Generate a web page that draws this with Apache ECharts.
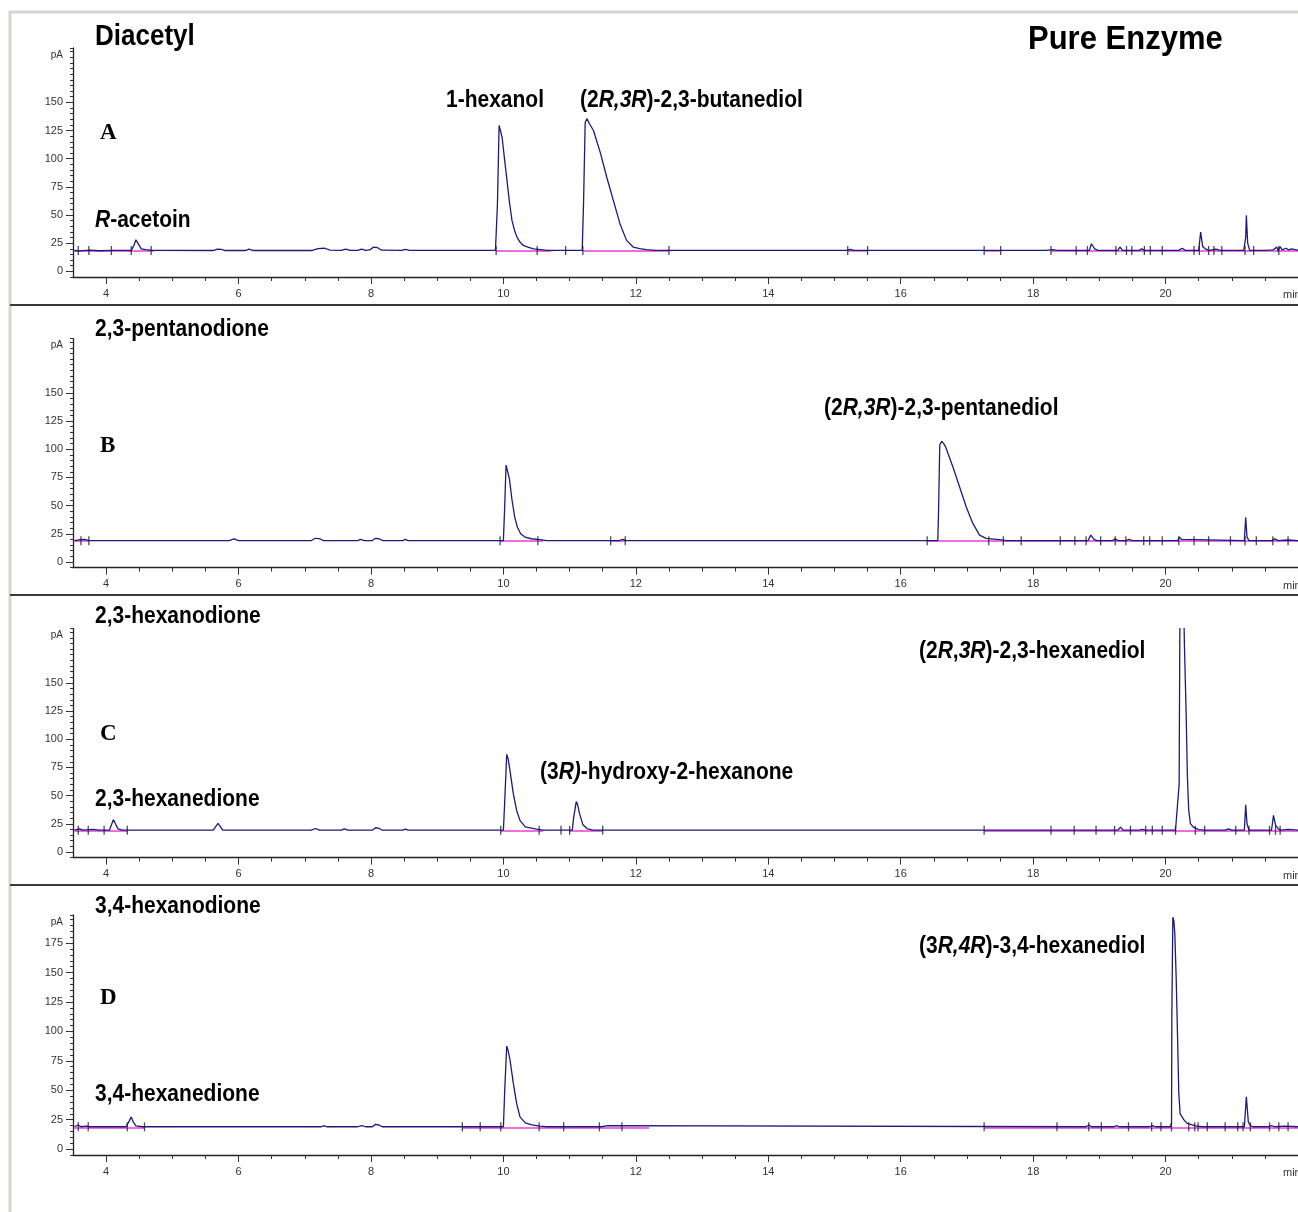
<!DOCTYPE html>
<html>
<head>
<meta charset="utf-8">
<script src="https://cdn.jsdelivr.net/npm/echarts@6/dist/echarts.min.js"></script>
<style>
  html, body { margin: 0; padding: 0; background: #ffffff; }
  #chart { width: 1298px; height: 1212px; }
</style>
</head>
<body>
<div id="chart"></div>
<script>
// ---- GC-FID chromatograms: [retention time (min), signal (pA)] ----
const traceA = [
  [3.52,18.5],[3.6,18.2],[3.75,18.9],[3.9,18.3],[4.1,18.6],[4.3,18.6],[4.38,18.5],[4.42,23],[4.45,28],[4.49,24],
  [4.53,20],[4.6,19.3],[4.7,18.6],[5.62,18.5],[5.68,19.8],[5.74,19.6],[5.8,18.5],[6.1,18.5],[6.16,19.8],[6.22,18.5],
  [7.1,18.5],[7.2,20.2],[7.3,20.5],[7.38,18.8],[7.55,18.6],[7.62,19.8],[7.68,18.6],[7.8,18.6],[7.86,19.8],[7.92,18.6],
  [7.98,19],[8.04,21.5],[8.1,21],[8.16,18.8],[8.46,18.6],[8.52,19.6],[8.58,18.6],[9.88,18.6],[9.91,60],[9.935,129.5],
  [9.95,128],[9.98,119],[10.02,98],[10.054,80.7],[10.09,62],[10.13,45],[10.17,36],[10.205,30.4],[10.25,26],[10.30,23],
  [10.38,21.2],[10.455,20],[10.56,19.3],[10.66,18.6],[11.19,18.6],[11.21,60],[11.235,132],[11.26,135.5],[11.3,131],
  [11.36,125],[11.46,106],[11.56,83.7],[11.66,63],[11.76,42.3],[11.86,27.5],[11.96,21.6],[12.06,20.1],[12.16,19.3],
  [12.3,18.6],[15.18,18.6],[15.24,19.4],[15.3,18.6],[18.2,18.6],[18.3,19.2],[18.36,18.6],[18.85,18.6],[18.88,24.5],
  [18.93,20],[18.98,18.6],[19.28,18.6],[19.31,21.6],[19.35,18.6],[19.6,18.6],[19.64,20],[19.68,18.6],[20.2,18.6],
  [20.25,20.5],[20.3,18.6],[20.5,18.6],[20.53,34.9],[20.56,22],[20.6,20],[20.66,18.6],[20.76,19.8],[20.82,18.6],
  [21.18,18.6],[21.21,30],[21.22,49.7],[21.24,25],[21.27,18.6],[21.5,18.6],[21.62,19],[21.68,21.5],[21.7,18],
  [21.73,22],[21.76,19],[21.82,20.5],[21.86,19],[21.9,20],[22,18.8]
];
const traceB = [
  [3.52,19],[3.62,19.8],[3.68,20],[3.74,19],[5.86,19],[5.93,20.5],[6.0,19],[7.1,19],[7.16,21],[7.22,20.8],[7.28,19],
  [7.8,19],[7.84,20],[7.9,19],[8.02,19],[8.07,21],[8.12,20.6],[8.18,19],[8.48,19],[8.52,20],[8.56,19],[10.0,19],
  [10.02,50],[10.04,86],[10.06,85],[10.09,74],[10.13,55],[10.17,40],[10.21,31],[10.26,25],[10.33,22],[10.42,20.6],
  [10.55,19.8],[10.65,19],[11.75,19],[11.8,20],[11.86,19],[16.56,19],[16.57,40],[16.59,104],[16.62,107],[16.65,105],
  [16.68,101.8],[16.79,84],[16.89,66.5],[16.99,48.8],[17.09,34.2],[17.19,23.8],[17.29,20.9],[17.49,19.8],[17.6,19],
  [18.83,19],[18.87,23.8],[18.92,20],[18.96,19],[19.2,19],[19.24,20.5],[19.28,19],[19.4,19],[19.45,20],[19.5,19],
  [19.6,19],[19.62,20],[19.66,19],[20.18,19],[20.21,22],[20.24,20],[20.27,19],[21.19,19],[21.21,39.7],[21.23,22],
  [21.26,19],[21.6,19],[21.65,20.5],[21.7,19],[21.85,19.5],[22,19]
];
const traceC = [
  [3.52,19.3],[3.6,20.5],[3.65,19.3],[3.8,20],[3.9,19.3],[4.05,19.3],[4.08,24],[4.11,28.7],[4.14,25],[4.18,20.5],
  [4.25,19.3],[5.62,19.3],[5.66,23],[5.69,25.4],[5.72,23],[5.76,19.3],[7.1,19.3],[7.16,20.8],[7.22,19.3],[7.55,19.3],
  [7.6,20.5],[7.65,19.3],[8.02,19.3],[8.07,21.5],[8.12,21],[8.17,19.3],[8.48,19.3],[8.52,20.3],[8.56,19.3],[10.0,19.3],
  [10.02,45],[10.05,86.6],[10.07,83],[10.10,71.9],[10.15,51.5],[10.20,36.8],[10.25,28],[10.33,22.2],[10.5,20.2],
  [10.6,19.3],[11.04,19.3],[11.06,30],[11.10,44.7],[11.12,42],[11.15,34],[11.20,24.3],[11.26,20.8],[11.35,19.3],
  [18.93,19.3],[18.96,20.5],[19.0,19.3],[19.28,19.3],[19.32,22],[19.36,19.3],[19.6,19.3],[19.65,20],[19.7,19.3],
  [20.15,19.3],[20.18,21],[20.205,60],[20.215,190],[20.235,290],[20.255,300],[20.275,215],[20.285,183],[20.31,124.6],
  [20.33,66],[20.35,36.8],[20.375,25.2],[20.42,22],[20.5,19.8],[20.6,19.3],[20.9,19.3],[20.95,20.5],[21.0,19.3],
  [21.19,19.3],[21.21,41.8],[21.23,25],[21.26,19.3],[21.6,19.3],[21.63,32.5],[21.66,24],[21.7,20.5],[21.75,19.3],
  [21.85,20],[22,19.3]
];
const traceD = [
  [3.52,19],[3.58,20.5],[3.62,19],[3.7,19.5],[3.75,19],[4.3,19],[4.35,24],[4.38,27.4],[4.41,23],[4.45,19.8],[4.55,19],
  [7.25,19],[7.29,20],[7.33,19],[7.8,19],[7.86,20],[7.92,19],[8.02,19],[8.07,21],[8.12,20.5],[8.17,19],[10.0,19],
  [10.02,50],[10.05,87.5],[10.07,84],[10.10,75.6],[10.15,55.8],[10.20,38.8],[10.25,27.4],[10.33,22.3],[10.43,20.6],
  [10.55,19.5],[10.65,19],[11.48,19],[11.5,20],[11.58,20],[11.6,19],[18.8,19],[18.84,20.5],[18.88,19],[19.22,19],
  [19.26,20],[19.3,19],[19.42,19],[19.45,20.5],[19.48,19],[19.75,19],[19.8,20],[19.85,19],[20.07,19],[20.09,22],
  [20.095,115],[20.11,197],[20.125,194],[20.14,183],[20.16,146],[20.18,98],[20.20,47.3],[20.22,30],[20.28,24.6],
  [20.33,21.8],[20.45,19.8],[20.55,19],[21.19,19],[21.22,44.4],[21.25,23],[21.28,20],[21.32,19],[21.55,19],[21.6,20],
  [21.65,19],[21.8,19.5],[22,19]
];

// Integration baselines: [start (min), end (min), level (pA)]
const baseA = [[3.52,4.72,18],[9.89,10.72,18],[11.2,12.5,18],[15.2,15.5,18],[17.26,17.51,18],[18.27,22,18]];
const baseB = [[3.52,3.74,18.4],[9.95,10.6,18.4],[11.62,11.85,18.4],[16.4,22,18.4]];
const baseC = [[3.52,4.32,18.7],[9.96,10.6,18.7],[11.0,11.5,18.7],[17.26,22,18.7]];
const baseD = [[3.52,4.58,18.4],[9.38,12.2,18.4],[17.26,22,18.4]];

// Peak start/stop event marks (retention time, min)
const marksA = [3.58,3.74,4.08,4.38,4.68,9.89,10.51,10.94,11.2,12.5,15.2,15.5,17.26,17.51,18.27,18.65,18.82,19.25,
  19.41,19.49,19.68,19.77,19.95,20.43,20.51,20.65,20.73,20.85,21.2,21.33,21.71];
const marksB = [3.62,3.74,9.95,10.52,11.62,11.84,16.4,17.33,17.55,17.82,18.41,18.63,18.8,19.02,19.24,19.4,19.67,
  19.76,19.95,20.2,20.43,20.65,20.98,21.2,21.37,21.62,21.85];
const marksC = [3.58,3.73,3.97,4.32,9.96,10.54,10.87,11.0,11.5,17.26,18.27,18.62,18.95,19.23,19.47,19.7,19.8,19.95,
  20.15,20.45,20.59,21.06,21.26,21.57,21.66,21.73];
const marksD = [3.58,3.73,4.32,4.58,9.38,9.65,9.96,10.54,10.91,11.45,11.79,17.26,18.36,18.84,19.03,19.44,19.79,
  19.93,20.09,20.35,20.44,20.49,20.63,20.9,21.09,21.17,21.28,21.57,21.71,21.85];

// Axis tick labels
const timeLabels = [4, 6, 8, 10, 12, 14, 16, 18, 20];
const pALabelsABC = [0, 25, 50, 75, 100, 125, 150];
const pALabelsD = [0, 25, 50, 75, 100, 125, 150, 175];

// Panel layout (pixels) and y range
const panels = [
  { trace: traceA, base: baseA, marks: marksA, yTicks: pALabelsABC, top: 48,    height: 229, yMax: 198.2 },
  { trace: traceB, base: baseB, marks: marksB, yTicks: pALabelsABC, top: 338.6, height: 229, yMax: 198.2 },
  { trace: traceC, base: baseC, marks: marksC, yTicks: pALabelsABC, top: 628.6, height: 229, yMax: 198.2 },
  { trace: traceD, base: baseD, marks: marksD, yTicks: pALabelsD,   top: 915,   height: 240, yMax: 198.9 }
];

const SANS = "'Liberation Sans', Arial, sans-serif";
const TRACE = '#1d1b7a';
const BASELINE = '#ee6ee0';

const grid = [], xAxis = [], yAxis = [], series = [];
const halfMinutes = [];
for (let t = 4; t <= 21.5; t += 0.5) halfMinutes.push(t);

panels.forEach((p, i) => {
  grid.push({ left: 73, right: 0, top: p.top, height: p.height, containLabel: false, outerBoundsMode: 'none' });
  // minor time ticks every 0.5 min + labels
  xAxis.push({
    gridIndex: i, type: 'value', min: 3.5, max: 22, position: 'bottom',
    axisLine: { show: true, onZero: false, lineStyle: { color: '#222', width: 1.3 } },
    axisTick: { show: true, length: 4, customValues: halfMinutes, lineStyle: { color: '#333' } },
    axisLabel: { customValues: timeLabels, fontSize: 11, color: '#333', margin: 11, fontFamily: SANS },
    splitLine: { show: false }
  });
  // longer ticks at the labelled minutes
  xAxis.push({
    gridIndex: i, type: 'value', min: 3.5, max: 22, position: 'bottom',
    axisLine: { show: false, onZero: false },
    axisTick: { show: true, length: 7, customValues: timeLabels, lineStyle: { color: '#333' } },
    axisLabel: { show: false },
    splitLine: { show: false }
  });
  // minor pA ticks every 5 pA
  yAxis.push({
    gridIndex: i, type: 'value', min: -5, max: p.yMax, interval: 5, position: 'left',
    axisLine: { show: true, onZero: false, lineStyle: { color: '#222', width: 1.3 } },
    axisTick: { show: true, length: 3, lineStyle: { color: '#333' } },
    axisLabel: { show: false },
    splitLine: { show: false }
  });
  // labelled pA ticks + unit
  yAxis.push({
    gridIndex: i, type: 'value', min: -5, max: p.yMax, position: 'left',
    axisLine: { show: false, onZero: false },
    axisTick: { show: true, length: 7, customValues: p.yTicks, lineStyle: { color: '#333' } },
    axisLabel: { customValues: p.yTicks, fontSize: 11, color: '#333', margin: 10, fontFamily: SANS },
    splitLine: { show: false },
    name: 'pA', nameLocation: 'end', nameGap: -7,
    nameTextStyle: { fontSize: 10, color: '#333', fontFamily: SANS, align: 'right', verticalAlign: 'middle', padding: [0, 10, 0, 0] }
  });

  const xi = i * 2, yi = i * 2;
  series.push({
    type: 'lines', coordinateSystem: 'cartesian2d', xAxisIndex: xi, yAxisIndex: yi,
    polyline: false, silent: true, z: 2,
    lineStyle: { color: BASELINE, width: 1.8, opacity: 1 },
    data: p.base.map(([t0, t1, lv]) => ({ coords: [[t0, lv], [t1, lv]] }))
  });
  series.push({
    type: 'line', xAxisIndex: xi, yAxisIndex: yi, data: p.trace,
    showSymbol: false, symbol: 'none', clip: true, z: 3,
    lineStyle: { color: TRACE, width: 1.3 }
  });
  series.push({
    type: 'scatter', xAxisIndex: xi, yAxisIndex: yi, silent: true, z: 4,
    symbol: 'rect', symbolSize: [1.3, 9],
    itemStyle: { color: '#1a1a40' },
    data: p.marks.map(t => [t, p.base[0][2] + 0.5])
  });
});

// Annotation text (rich: b = upright bold, i = italic bold)
const LABEL = 21;
const rich = {
  b: { font: `bold ${LABEL}px ${SANS}`, fill: '#000' },
  i: { font: `italic bold ${LABEL}px ${SANS}`, fill: '#000' },
  t: { font: `bold 26px ${SANS}`, fill: '#000' }
};
const labels = [
  { x: 95,  y: 36,   text: '{t|Diacetyl}' },
  { x: 95,  y: 220,  text: '{i|R}{b|-acetoin}' },
  { x: 446, y: 100,  text: '{b|1-hexanol}' },
  { x: 580, y: 100,  text: '{b|(2}{i|R,3R}{b|)-2,3-butanediol}' },
  { x: 95,  y: 329,  text: '{b|2,3-pentanodione}' },
  { x: 824, y: 408,  text: '{b|(2}{i|R,3R}{b|)-2,3-pentanediol}' },
  { x: 95,  y: 616,  text: '{b|2,3-hexanodione}' },
  { x: 919, y: 651,  text: '{b|(2}{i|R}{b|,}{i|3R}{b|)-2,3-hexanediol}' },
  { x: 540, y: 772,  text: '{b|(3}{i|R)}{b|-hydroxy-2-hexanone}' },
  { x: 95,  y: 799,  text: '{b|2,3-hexanedione}' },
  { x: 95,  y: 906,  text: '{b|3,4-hexanodione}' },
  { x: 919, y: 946,  text: '{b|(3}{i|R,4R}{b|)-3,4-hexanediol}' },
  { x: 95,  y: 1094, text: '{b|3,4-hexanedione}' }
];
const panelLetters = [
  { x: 100, y: 133, text: 'A' }, { x: 100, y: 446, text: 'B' },
  { x: 100, y: 734, text: 'C' }, { x: 100, y: 998, text: 'D' }
];

const graphic = [
  { type: 'rect', silent: true, z: -1, shape: { x: 10, y: 12, width: 1300, height: 1210 },
    style: { fill: '#ffffff', stroke: '#d6d6d0', lineWidth: 3 } }
];
[305, 595, 885].forEach(y => graphic.push({
  type: 'line', silent: true, shape: { x1: 10, y1: y, x2: 1298, y2: y },
  style: { stroke: '#3a3a3a', lineWidth: 2 }
}));
labels.forEach(l => graphic.push({
  type: 'text', silent: true, x: l.x, y: l.y + 1, scaleY: 1.1, originY: 0,
  style: { text: l.text, rich, verticalAlign: 'middle', font: `bold ${LABEL}px ${SANS}` }
}));
panelLetters.forEach(l => graphic.push({
  type: 'text', silent: true, x: l.x, y: l.y,
  style: { text: l.text, font: "bold 23px 'Liberation Serif', 'Times New Roman', serif", fill: '#000', verticalAlign: 'middle' }
}));
graphic.push({
  type: 'text', silent: true, x: 1028, y: 40, scaleY: 1.05,
  style: { text: 'Pure Enzyme', font: `bold 31px ${SANS}`, fill: '#000', verticalAlign: 'middle' }
});
panels.forEach(p => graphic.push({
  type: 'text', silent: true, x: 1283, y: p.top + p.height + 18,
  style: { text: 'min', font: `11px ${SANS}`, fill: '#333', verticalAlign: 'middle' }
}));

const chart = echarts.init(document.getElementById('chart'), null, { renderer: 'canvas' });
chart.setOption({
  animation: false,
  backgroundColor: '#ffffff',
  grid, xAxis, yAxis, series, graphic
});
</script>
</body>
</html>
